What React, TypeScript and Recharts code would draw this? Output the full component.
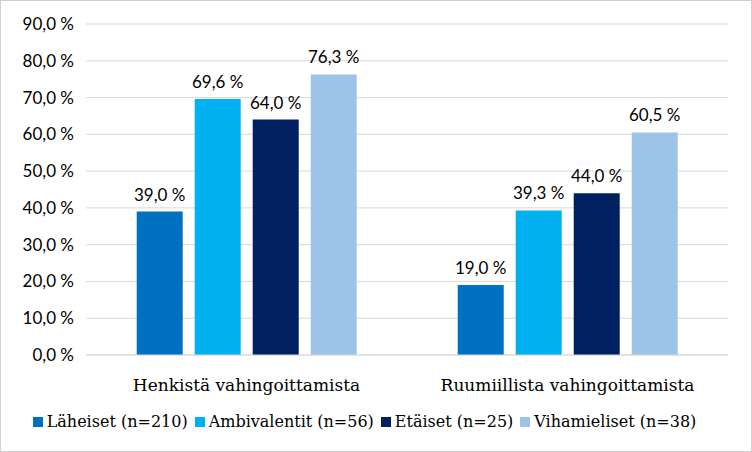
import React from 'react';
import { BarChart, Bar, XAxis, YAxis, CartesianGrid, Legend, LabelList } from 'recharts';

const categories = ['Henkistä vahingoittamista', 'Ruumiillista vahingoittamista'];
const laheiset = [39.0, 19.0];
const ambivalentit = [69.6, 39.3];
const etaiset = [64.0, 44.0];
const vihamieliset = [76.3, 60.5];
const yTicks = [0, 10, 20, 30, 40, 50, 60, 70, 80, 90];

const series = [
    { key: 'laheiset', name: 'Läheiset (n=210)', color: '#0070C0' },
    { key: 'ambivalentit', name: 'Ambivalentit (n=56)', color: '#00B0F0' },
    { key: 'etaiset', name: 'Etäiset (n=25)', color: '#002060' },
    { key: 'vihamieliset', name: 'Vihamieliset (n=38)', color: '#9DC3E6' },
];

const data = categories.map((name, i) => ({
    name,
    laheiset: laheiset[i],
    ambivalentit: ambivalentit[i],
    etaiset: etaiset[i],
    vihamieliset: vihamieliset[i],
}));

const pct = (v: number) => `${Number(v).toFixed(1).replace('.', ',')} %`;

const numFont = 'Lato, "Open Sans", sans-serif';
const textFont = '"DejaVu Serif", serif';

// legend in series order (recharts would sort it)
const LegendContent = () => (
    <div style={{ display: 'flex', justifyContent: 'center', gap: 7, fontFamily: textFont, fontSize: 16, color: '#000' }}>
        {series.map((s) => (
            <div key={s.key} style={{ display: 'flex', alignItems: 'center', gap: 4 }}>
                <span style={{ display: 'inline-block', width: 10, height: 10, background: s.color }} />
                <span>{s.name}</span>
            </div>
        ))}
    </div>
);

// plain text label, no wrapping to bar width
const ValueLabel = (props: any) => {
    const { x, y, width, value } = props;
    return (
        <text x={Number(x) + Number(width) / 2} y={Number(y) - 11} textAnchor="middle" fill="#000" fontSize={17} fontFamily={numFont}>
            {pct(value)}
        </text>
    );
};

export default function App() {
    return (
        <div style={{ position: 'absolute', left: 0, top: 0, width: 752, height: 452, border: '1px solid #D0D0D0', boxSizing: 'border-box', background: '#fff' }}>
            <BarChart
                width={750}
                height={450}
                data={data}
                margin={{ top: 23, right: 23, left: 0, bottom: 20 }}
                barCategoryGap="15.8%"
                barGap={12}
            >
                <CartesianGrid vertical={false} stroke="#D9D9D9" />
                <XAxis
                    dataKey="name"
                    tickLine={false}
                    axisLine={{ stroke: '#D9D9D9' }}
                    height={57}
                    tickMargin={18}
                    tick={{ fill: '#000', fontSize: 17, fontFamily: textFont }}
                />
                <YAxis
                    domain={[0, 90]}
                    ticks={yTicks}
                    tickFormatter={pct}
                    axisLine={false}
                    tickLine={false}
                    width={85}
                    tickMargin={6}
                    tick={{ fill: '#000', fontSize: 17, fontFamily: numFont }}
                />
                <Legend content={<LegendContent />} />
                {series.map((s) => (
                    <Bar key={s.key} dataKey={s.key} name={s.name} fill={s.color} isAnimationActive={false}>
                        <LabelList dataKey={s.key} content={<ValueLabel />} />
                    </Bar>
                ))}
            </BarChart>
        </div>
    );
}
